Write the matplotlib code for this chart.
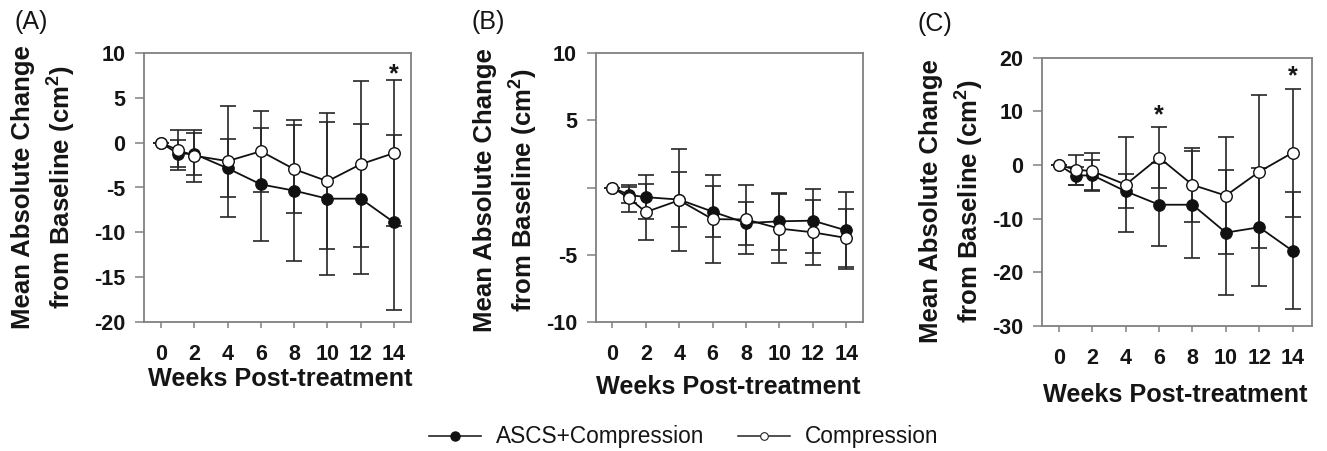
import matplotlib
matplotlib.use("Agg")
import matplotlib.pyplot as plt
from matplotlib.lines import Line2D
import numpy as np

plt.rcParams['font.family'] = ['Liberation Sans', 'DejaVu Sans']
plt.rcParams['axes.unicode_minus'] = False
plt.rcParams['mathtext.fontset'] = 'custom'
plt.rcParams['mathtext.rm'] = 'Liberation Sans'
plt.rcParams['mathtext.bf'] = 'Liberation Sans:bold'

weeks = [0, 1, 2, 4, 6, 8, 10, 12, 14]
xtick_vals = [0, 2, 4, 6, 8, 10, 12, 14]

# Panel A
a_ascs = [0, -1.2, -1.25, -2.85, -4.65, -5.35, -6.25, -6.25, -8.9]
a_ascs_err = [0, 1.55, 2.3, 3.25, 6.35, 7.85, 8.55, 8.4, 9.75]
a_comp = [0, -0.8, -1.45, -2.05, -0.95, -2.95, -4.3, -2.4, -1.15]
a_comp_err = [0, 2.2, 2.9, 6.2, 4.55, 4.9, 7.6, 9.25, 8.15]
a_yticks = [10, 5, 0, -5, -10, -15, -20]
a_yticklabels = ['10', '5', '0', '-5', '-10', '-15', '-20']
a_star_weeks = [14]
a_star_y = [7.6]

# Panel B
b_ascs = [0, -0.55, -0.72, -0.9, -1.8, -2.65, -2.52, -2.47, -3.2]
b_ascs_err = [0, 0.6, 1.65, 2.05, 1.9, 1.6, 2.12, 2.38, 2.9]
b_comp = [0, -0.8, -1.83, -0.95, -2.36, -2.38, -3.06, -3.34, -3.76]
b_comp_err = [0, 1.0, 2.1, 3.8, 3.26, 2.54, 2.54, 2.43, 2.16]
b_yticks = [10, 5, 0, -5, -10]
b_yticklabels = ['10', '5', '', '-5', '-10']

# Panel C
c_ascs = [0, -2.0, -1.9, -4.9, -7.4, -7.4, -12.6, -11.6, -16.0]
c_ascs_err = [0, 1.7, 2.9, 3.15, 7.7, 10.0, 11.7, 11.0, 10.9]
c_comp = [0, -0.85, -1.15, -3.65, 1.4, -3.7, -5.7, -1.25, 2.3]
c_comp_err = [0, 2.8, 3.45, 8.85, 5.65, 6.95, 10.95, 14.25, 11.9]
c_yticks = [20, 10, 0, -10, -20, -30]
c_yticklabels = ['20', '10', '0', '-10', '-20', '-30']
c_star_weeks = [6, 14]
c_star_y = [9.2, 16.6]

W, H = 1327, 451
fig = plt.figure(figsize=(W / 100, H / 100), dpi=100)

def px_axes(l, t, r, b):
    return fig.add_axes([l / W, 1 - b / H, (r - l) / W, (b - t) / H])

SPINE = '#808080'
TXT = '#151515'

def panel(ax, asc, asc_err, comp, comp_err, ylim, xlim, yticks, yticklabels,
          star_w=None, star_y=None):
    ax.errorbar(weeks, asc, yerr=asc_err, fmt='none', ecolor='#262626',
                elinewidth=1.2, capsize=5.8, capthick=1.2, zorder=2)
    ax.errorbar(weeks, comp, yerr=comp_err, fmt='none', ecolor='#262626',
                elinewidth=1.2, capsize=5.8, capthick=1.2, zorder=2)
    ax.plot(weeks, asc, color='#111111', lw=1.3, marker='o', ms=8.3,
            mfc='#111111', mec='#111111', mew=0.8, zorder=3)
    ax.plot(weeks, comp, color='#111111', lw=1.3, marker='o', ms=8.3,
            mfc='white', mec='#111111', mew=1.0, zorder=4)
    ax.set_xlim(*xlim)
    ax.set_ylim(*ylim)
    ax.set_xticks(xtick_vals)
    ax.set_xticklabels([str(v) for v in xtick_vals], fontsize=15.5,
                       fontweight='bold', color=TXT)
    ax.set_yticks(yticks)
    ax.set_yticklabels(yticklabels, fontsize=15.5, fontweight='bold', color=TXT)
    for s in ax.spines.values():
        s.set_color(SPINE)
        s.set_linewidth(1.3)
    ax.tick_params(axis='x', direction='out', length=4, width=1.1,
                   color=SPINE, pad=12)
    ax.tick_params(axis='y', direction='out', length=6.5, width=1.1,
                   color=SPINE, pad=7)
    if star_w is not None:
        for w, y in zip(star_w, star_y):
            ax.text(w, y, '*', ha='center', va='center', fontsize=18,
                    fontweight='bold', color=TXT)

axA = px_axes(144.3, 53.3, 411, 321.7)
panel(axA, a_ascs, a_ascs_err, a_comp, a_comp_err, (-20, 10), (-1, 15.02),
      a_yticks, a_yticklabels, a_star_weeks, a_star_y)
axB = px_axes(595.7, 53.3, 863.3, 321.7)
panel(axB, b_ascs, b_ascs_err, b_comp, b_comp_err, (-10, 10), (-1, 15.02),
      b_yticks, b_yticklabels)
axC = px_axes(1042.3, 57.7, 1312.3, 326)
panel(axC, c_ascs, c_ascs_err, c_comp, c_comp_err, (-30, 20), (-1, 15.18),
      c_yticks, c_yticklabels, c_star_weeks, c_star_y)

ylab = 'Mean Absolute Change\nfrom Baseline (cm$^{\\mathbf{2}}$)'
xlab = 'Weeks Post-treatment'

def ftext(x, y, s, **kw):
    fig.text(x / W, 1 - y / H, s, **kw)

for (yx, yy) in [(44, 187.5), (506, 190), (952, 201)]:
    ftext(yx, yy, ylab, rotation=90, ha='center', va='center',
          multialignment='center', fontsize=18.5, fontweight='bold',
          color=TXT, linespacing=1.35)

for (xx, xy) in [(280.5, 379), (728.5, 387), (1175, 395)]:
    ftext(xx, xy, xlab, ha='center', va='center', fontsize=18.2,
          fontweight='bold', color=TXT)

for (lx, ly, s) in [(31, 22, '(A)'), (488.5, 22, '(B)'), (935, 24, '(C)')]:
    ftext(lx, ly, s, ha='center', va='center', fontsize=18, color=TXT)

handles = [
    Line2D([], [], color='#222222', lw=1.2, marker='o', ms=6.5,
           mfc='#111111', mec='#111111'),
    Line2D([], [], color='#222222', lw=1.1, marker='o', ms=5.5,
           mfc='white', mec='#222222', mew=0.8),
]
fig.legend(handles, ['ASCS+Compression', 'Compression'], ncol=2,
           loc='center', bbox_to_anchor=(683.5 / W, 1 - 437 / H),
           frameon=False, fontsize=16.3, handlelength=2.3,
           handletextpad=0.66, columnspacing=1.5, borderpad=0,
           labelcolor=TXT)

fig.savefig('out.png', dpi=100)
